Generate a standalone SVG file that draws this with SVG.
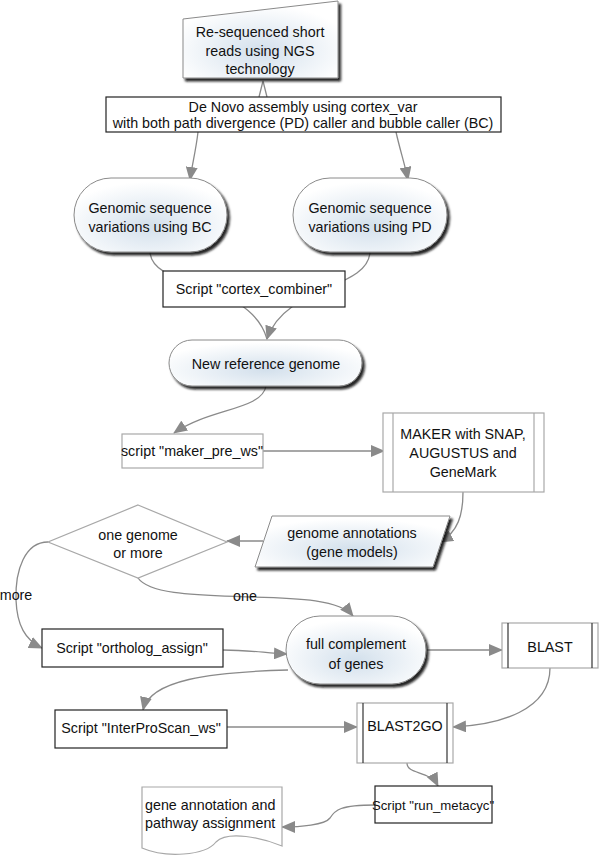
<svg xmlns="http://www.w3.org/2000/svg" width="600" height="857" viewBox="0 0 600 857">
<defs>
<style>
text{font-family:"Liberation Sans",Arial,sans-serif;font-size:14.3px;fill:#111;text-anchor:middle}
.c{fill:none;stroke:#8a8a8a;stroke-width:1.3}
.bk{fill:#fff;stroke:#222;stroke-width:1.2}
.gr{fill:#fff;stroke:#a8a8a8;stroke-width:1.2}
.in{stroke:#333;stroke-width:1.2}
.sh{fill:url(#g);stroke:#8a8a8a;stroke-width:1;filter:url(#ds)}
</style>
<radialGradient id="g" cx="50%" cy="65%" r="60%">
<stop offset="0" stop-color="#d3e0ec"/>
<stop offset="1" stop-color="#ffffff"/>
</radialGradient>
<filter id="ds" x="-10%" y="-10%" width="130%" height="140%">
<feDropShadow dx="2.5" dy="3" stdDeviation="1.2" flood-color="#111" flood-opacity="0.9"/>
</filter>
<marker id="a" markerWidth="14" markerHeight="12" refX="13" refY="6" orient="auto" markerUnits="userSpaceOnUse">
<path d="M0,0 L14,6 L0,12 Z" fill="#8a8a8a"/>
</marker>
</defs>

<g id="connectors">
<path class="c" d="M259,97 L263,81 L267,97"/>
<path class="c" d="M198,132 C196,150 192,165 190,180" marker-end="url(#a)"/>
<path class="c" d="M396,132 C400,150 405,165 408,180" marker-end="url(#a)"/>
<path class="c" d="M150,252 C152,290 250,280 267,339"/>
<path class="c" d="M370,252 C368,290 285,285 267,339" marker-end="url(#a)"/>
<path class="c" d="M266,386 C262,410 210,408 174,433" marker-end="url(#a)"/>
<path class="c" d="M263,451 L384,451" marker-end="url(#a)"/>
<path class="c" d="M463,492 C463,515 458,532 440,542" marker-end="url(#a)"/>
<path class="c" d="M263,541 L227,541" marker-end="url(#a)"/>
<path class="c" d="M48,542 C25,542 15,570 16,600 C17,625 25,640 42,648" marker-end="url(#a)"/>
<path class="c" d="M138,578 C150,595 200,595 250,597 C300,598 340,600 353,616" marker-end="url(#a)"/>
<path class="c" d="M223,650 C250,650 265,653 287,654" marker-end="url(#a)"/>
<path class="c" d="M426,650 L502,650" marker-end="url(#a)"/>
<path class="c" d="M288,670 C210,672 150,680 143,710" marker-end="url(#a)"/>
<path class="c" d="M227,727 L357,727" marker-end="url(#a)"/>
<path class="c" d="M550,668 C550,710 500,725 453,727" marker-end="url(#a)"/>
<path class="c" d="M407,763 C407,775 430,770 438,786" marker-end="url(#a)"/>
<path class="c" d="M375,805 C340,805 335,810 330,818 C325,825 300,827 282,827" marker-end="url(#a)"/>
</g>

<g id="n1">
<path class="sh" d="M183,19 L338,1 L338,78 L183,78 Z"/>
<text x="260" y="37">Re-sequenced short</text>
<text x="260" y="56">reads using NGS</text>
<text x="260" y="74">technology</text>
</g>

<g id="n2">
<rect class="bk" x="106" y="97" width="395" height="35"/>
<text x="303" y="112">De Novo assembly using cortex_var</text>
<text x="303" y="128">with both path divergence (PD) caller and bubble caller (BC)</text>
</g>

<g id="n3">
<rect class="sh" x="74" y="178" width="153" height="74" rx="37"/>
<text x="150" y="213">Genomic sequence</text>
<text x="150" y="232">variations using BC</text>
</g>

<g id="n4">
<rect class="sh" x="293" y="178" width="154" height="74" rx="37"/>
<text x="370" y="213">Genomic sequence</text>
<text x="370" y="232">variations using PD</text>
</g>

<g id="n5">
<rect class="bk" x="163" y="271" width="182" height="36"/>
<text x="254" y="294">Script "cortex_combiner"</text>
</g>

<g id="n6">
<rect class="sh" x="169" y="340" width="193" height="46" rx="23"/>
<text x="266" y="369">New reference genome</text>
</g>

<g id="n7">
<rect class="gr" x="122" y="434" width="141" height="34"/>
<text x="192" y="456">script "maker_pre_ws"</text>
</g>

<g id="n8">
<rect class="gr" x="383" y="413" width="161" height="79"/>
<line class="gr" x1="393" y1="413" x2="393" y2="492"/>
<line class="gr" x1="534" y1="413" x2="534" y2="492"/>
<text x="463" y="439">MAKER with SNAP,</text>
<text x="463" y="458">AUGUSTUS and</text>
<text x="463" y="477">GeneMark</text>
</g>

<g id="n9">
<path class="sh" d="M272,516 L450,516 L433,567 L255,567 Z"/>
<text x="352" y="538">genome annotations</text>
<text x="352" y="557">(gene models)</text>
</g>

<g id="n10">
<path class="gr" d="M138,505 L227,542 L138,578 L48,542 Z"/>
<text x="138" y="540">one genome</text>
<text x="138" y="558">or more</text>
</g>
<text x="16" y="600">more</text>
<text x="245" y="601">one</text>

<g id="n11">
<rect class="bk" x="42" y="629" width="181" height="38"/>
<text x="132" y="653">Script "ortholog_assign"</text>
</g>

<g id="n12">
<rect class="sh" x="286" y="616" width="140" height="68" rx="34"/>
<text x="356" y="649">full complement</text>
<text x="356" y="669">of genes</text>
</g>

<g id="n13">
<rect class="gr" x="502" y="623" width="96" height="45"/>
<line class="in" x1="508" y1="623" x2="508" y2="668"/>
<line class="in" x1="592" y1="623" x2="592" y2="668"/>
<text x="550" y="652">BLAST</text>
</g>

<g id="n14">
<rect class="bk" x="55" y="710" width="172" height="38"/>
<text x="141" y="733">Script "InterProScan_ws"</text>
</g>

<g id="n15">
<rect class="gr" x="357" y="703" width="96" height="60"/>
<line class="in" x1="363" y1="703" x2="363" y2="763"/>
<line class="in" x1="447" y1="703" x2="447" y2="763"/>
<text x="405" y="731">BLAST2GO</text>
</g>

<g id="n16">
<rect class="bk" x="375" y="786" width="117" height="37"/>
<text x="433" y="810" style="font-size:13.2px">Script "run_metacyc"</text>
</g>

<g id="n17">
<path class="gr" d="M142,787 H282 V846 C262,838 228,830 216,842 C205,856 165,858 142,848 Z"/>
<text x="145" y="810" style="text-anchor:start">gene annotation and</text>
<text x="145" y="828" style="text-anchor:start">pathway assignment</text>
</g>
</svg>
